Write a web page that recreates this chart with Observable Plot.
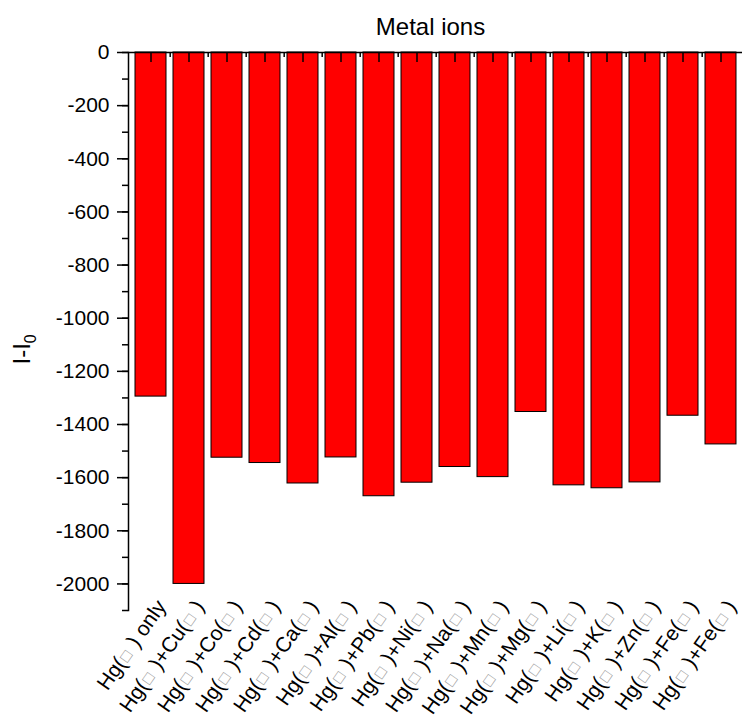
<!DOCTYPE html>
<html><head><meta charset="utf-8">
<script src="https://cdn.jsdelivr.net/npm/d3@7"></script>
<script src="https://cdn.jsdelivr.net/npm/@observablehq/plot@0.6"></script>
<style>body{margin:0;background:#fff}</style></head>
<body><div id="chart"></div>
<script>
const labels = ["Hg(□ ) only","Hg(□ )+Cu(□ )","Hg(□ )+Co(□ )","Hg(□ )+Cd(□ )","Hg(□ )+Ca(□ )","Hg(□ )+Al(□ )","Hg(□ )+Pb(□ )","Hg(□ )+Ni(□ )","Hg(□ )+Na(□ )","Hg(□ )+Mn(□ )","Hg(□ )+Mg(□ )","Hg(□ )+Li(□ )","Hg(□ )+K(□ )","Hg(□ )+Zn(□ )","Hg(□ )+Fe(□ )","Hg(□ )+Fe(□ )"];
const values = [-1295,-2000,-1525,-1545,-1622,-1524,-1670,-1619,-1560,-1598,-1353,-1629,-1640,-1618,-1367,-1475];
const yMajorTicks = d3.range(-2000, 1, 200);
const yMinorTicks = d3.range(-2100, 1, 100);
const title = "Metal ions";
const yLabel = "I-I0";

const data = labels.map((label, i) => ({key: i, label, value: values[i]}));
const keys = data.map(d => d.key);
const W = 742, H = 717, mL = 128, mR = 0, mT = 52, mB = 107;
const step = (W - mL - mR) / keys.length;
const frameH = H - mT - mB;
const font = "'Liberation Sans', Arial, Helvetica, sans-serif";

const chart = Plot.plot({
  width: W, height: H, marginLeft: mL, marginRight: mR, marginTop: mT, marginBottom: mB,
  style: {fontFamily: font, background: "#fff", overflow: "visible", color: "#000"},
  x: {type: "band", domain: keys, paddingInner: 0.19, paddingOuter: 0.095, axis: null},
  y: {domain: [-2100, 0], axis: null},
  marks: [
    Plot.barY(data, {x: "key", y: "value", fill: "#ff0000", stroke: "#000", strokeWidth: 1}),
    Plot.ruleY([0], {stroke: "#000", strokeWidth: 1.5}),
    Plot.frame({anchor: "left", stroke: "#000", strokeWidth: 1.5}),
    Plot.tickX(keys, {x: d => d, insetBottom: frameH - 10, stroke: "#000", strokeWidth: 1.5}),
    Plot.tickX(keys.slice(0, -1), {x: d => d, dx: step / 2, insetBottom: frameH - 5, stroke: "#000", strokeWidth: 1.5}),
    Plot.axisY({ticks: yMinorTicks, tickSize: 6, tickFormat: () => "", strokeWidth: 1.5, label: null}),
    Plot.axisY({ticks: yMajorTicks, tickSize: 11, tickPadding: 8, fontSize: 21, strokeWidth: 1.5, label: null,
      tickFormat: d => d < 0 ? "-" + Math.abs(d) : String(d)}),
    Plot.text(data, {x: "key", text: "label", frameAnchor: "bottom", rotate: -55, textAnchor: "end", dx: 16, dy: -4, fontSize: 21}),
    Plot.text([title], {frameAnchor: "top", dx: -5, dy: -35, fontSize: 24}),
    Plot.text([yLabel], {frameAnchor: "left", dx: -106, dy: 33, rotate: -90, fontSize: 24})
  ]
});

const svg = d3.select(chart);
svg.selectAll("text").each(function() {
  const t = this.textContent;
  const sel = d3.select(this);
  if (t.includes("□") && this.childElementCount === 0) {
    sel.text(null).attr("xml:space", "preserve");
    t.split(/(□)/).forEach(part => {
      if (!part) return;
      const ts = sel.append("tspan").text(part.replace(/ /g, "\u00a0"));
      if (part === "□") ts.attr("fill", "#9a9a9a").attr("font-size", 16).attr("dx", 1);
      else if (part.startsWith(" ")) ts.attr("dx", 2);
    });
  } else if (t === yLabel && this.childElementCount === 0) {
    sel.text(null);
    sel.append("tspan").text("I-I");
    sel.append("tspan").attr("font-size", 16).attr("dy", "0.35em").text("0");
  }
});
document.getElementById("chart").appendChild(chart);
</script>
</body></html>
